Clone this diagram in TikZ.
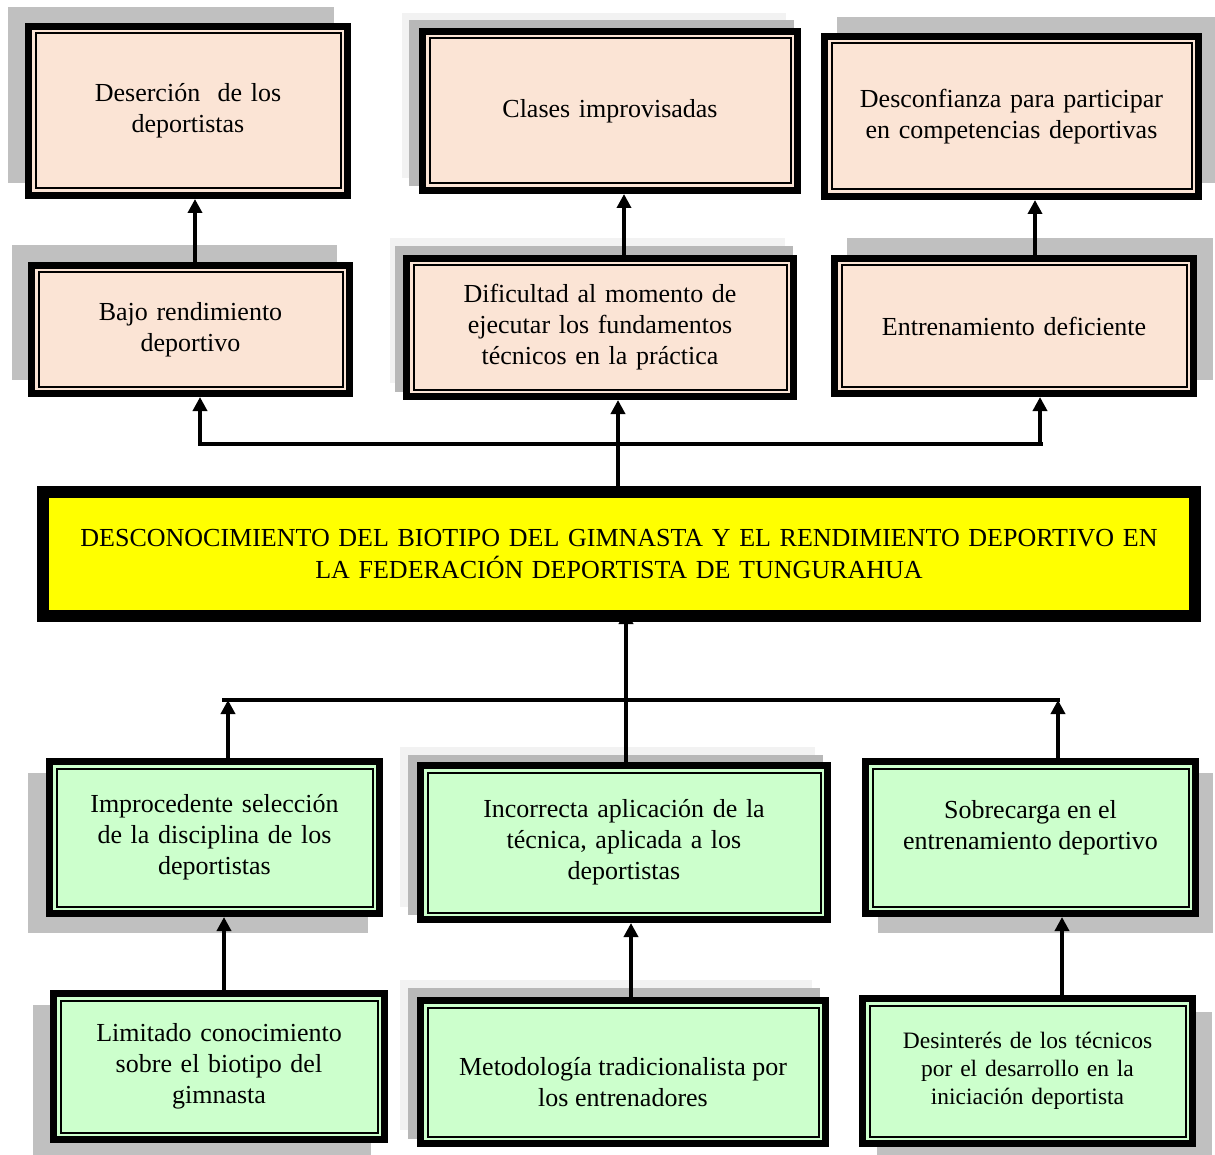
\documentclass[tikz,border=0pt]{standalone}
\usepackage{fontspec}
\setmainfont{Liberation Serif}
\usetikzlibrary{arrows.meta}
\definecolor{pinkfill}{HTML}{FBE4D5}
\definecolor{greenfill}{HTML}{CCFFCC}
\definecolor{mainyellow}{HTML}{FFFF00}
\definecolor{shadowgray}{HTML}{C0C0C0}
\definecolor{shadowdark}{HTML}{B8B8B8}
\definecolor{shadowlight}{HTML}{F2F2F2}
\tikzset{
  causebox/.style={draw=black, line width=7pt, align=center, inner sep=0pt,
    font=\fontsize{26}{31}\selectfont,
    path picture={\draw[line width=2pt,black]
      ([shift={(7pt,7pt)}]path picture bounding box.south west) rectangle
      ([shift={(-7pt,-7pt)}]path picture bounding box.north east);}},
  pinkbox/.style={causebox, fill=pinkfill},
  greenbox/.style={causebox, fill=greenfill},
  mainbox/.style={draw=black, line width=12pt, fill=mainyellow, align=center, inner sep=0pt,
    font=\fontsize{26}{32}\selectfont},
  boxtext/.style={align=center, inner sep=0pt, font=\fontsize{26}{31}\selectfont},
  shad/.style={fill=shadowgray},
  shaddark/.style={fill=shadowdark},
  shadlight/.style={fill=shadowlight},
  conn/.style={line width=3.5pt},
  arr/.style={conn, -{Triangle[width=14pt,length=14pt]}},
}
\begin{document}
\begin{tikzpicture}[x=1pt,y=-1pt]
\useasboundingbox (0,0) rectangle (1215,1155);
% shadows
\fill[shad] (8,7) rectangle (334,183);
\fill[shadlight] (402,13) rectangle (786,178);
\fill[shaddark] (409,20) rectangle (794,186);
\fill[shad] (837,17) rectangle (1215,183);
\fill[shad] (12,245) rectangle (337,380);
\fill[shadlight] (390,238) rectangle (785,383);
\fill[shaddark] (395,246) rectangle (793,392);
\fill[shad] (847,238) rectangle (1213,380);
\fill[shad] (28,773) rectangle (368,933);
\fill[shadlight] (400,747) rectangle (815,907);
\fill[shaddark] (408,755) rectangle (823,915);
\fill[shad] (878,773) rectangle (1213,933);
\fill[shad] (33,1005) rectangle (371,1155);
\fill[shadlight] (400,980) rectangle (812,1130);
\fill[shaddark] (408,988) rectangle (820,1139);
\fill[shad] (877,1012) rectangle (1212,1155);

% top row (effects)
\node[pinkbox, minimum width=319pt, minimum height=169pt, text width=305pt] (b1) at (188,111)
  {Deserción \ de los\\deportistas};
\node[pinkbox, minimum width=375pt, minimum height=159pt, text width=360pt] (b2) at (610,111)
  {Clases improvisadas};
\node[pinkbox, minimum width=374pt, minimum height=160pt, text width=360pt] (b3) at (1011.5,116.5)
  {Desconfianza para participar\\en competencias deportivas};
\node[pinkbox, minimum width=318pt, minimum height=128pt, text width=305pt] (b4) at (190.5,329.5)
  {Bajo rendimiento\\deportivo};
\node[pinkbox, minimum width=387pt, minimum height=138pt, text width=370pt] (b5) at (600,327.5)
  {Dificultad al momento de\\ejecutar los fundamentos\\técnicos en la práctica};
\node[pinkbox, minimum width=359pt, minimum height=135pt, text width=345pt] (b6) at (1014,326)
  {Entrenamiento deficiente};

% central problem
\node[mainbox, minimum width=1152pt, minimum height=124pt, text width=1140pt] (b0) at (619,554)
  {DESCONOCIMIENTO DEL BIOTIPO DEL GIMNASTA Y EL RENDIMIENTO DEPORTIVO EN\\LA FEDERACIÓN DEPORTISTA DE TUNGURAHUA};

% causes
\node[greenbox, minimum width=330pt, minimum height=152pt, text width=315pt] (b7) at (214.5,837.5)
  {Improcedente selección\\de la disciplina de los\\deportistas};
\node[greenbox, minimum width=407pt, minimum height=154pt, text width=390pt] (b8) at (624,842.5)
  {Incorrecta aplicación de la\\técnica, aplicada a los\\deportistas};
\node[greenbox, minimum width=330pt, minimum height=152pt] (b9) at (1030.5,837.5) {};
\node[boxtext] (t9) at (1030.5,828) {Sobrecarga en el\\entrenamiento deportivo};
\node[greenbox, minimum width=331pt, minimum height=146pt, text width=315pt] (b10) at (219,1066.5)
  {Limitado conocimiento\\sobre el biotipo del\\gimnasta};
\node[greenbox, minimum width=405pt, minimum height=143pt] (b11) at (623,1072) {};
\node[boxtext] (t11) at (623,1082) {Metodología tradicionalista por\\los entrenadores};
\node[greenbox, minimum width=330pt, minimum height=145pt, text width=315pt,
  font=\fontsize{23.5}{28}\selectfont] (b12) at (1027.5,1071)
  {Desinterés de los técnicos\\por el desarrollo en la\\iniciación deportista};

% connectors: upper part
\draw[arr] (b4.north -| 195,0) -- (b1.south -| 195,0);
\draw[arr] (b5.north -| 624,0) -- (b2.south -| 624,0);
\draw[arr] (b6.north -| 1035,0) -- (b3.south -| 1035,0);
\coordinate (hl) at (200,444);
\coordinate (hr) at (1040,444);
\draw[conn] (198,444) -- (1043,444);
\draw[arr] (hl) -- (b4.south -| hl);
\draw[arr] (hr) -- (b6.south -| hr);
\draw[arr] (b0.north -| 618,0) -- (b5.south -| 618,0);

% connectors: lower part
\coordinate (gl) at (228,700);
\coordinate (gr) at (1058,700);
\draw[conn] (222,700) -- (1060,700);
\draw[arr] (b7.north -| gl) -- (gl);
\draw[arr] (b9.north -| gr) -- (gr);
\draw[arr, shorten >=-12pt] (b8.north -| 626,0) -- (b0.south -| 626,0);
\draw[arr] (b10.north -| 224,0) -- (b7.south -| 224,0);
\draw[arr] (b11.north -| 631,0) -- (b8.south -| 631,0);
\draw[arr] (b12.north -| 1062,0) -- (b9.south -| 1062,0);
\end{tikzpicture}
\end{document}
